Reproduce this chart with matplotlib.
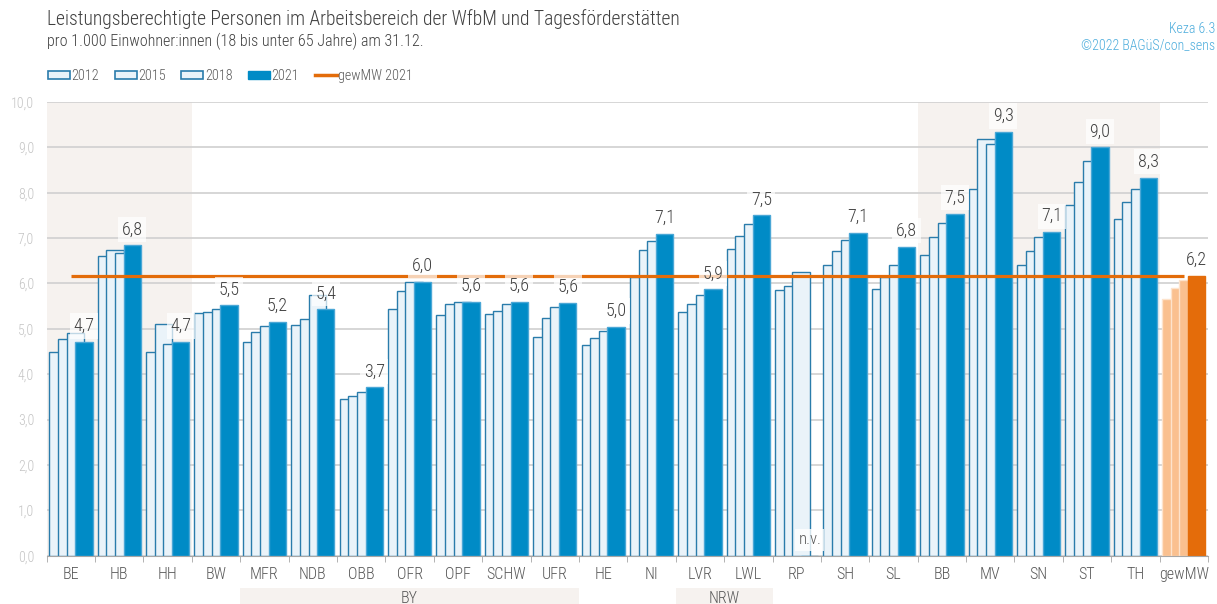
"""Keza 6.3: Leistungsberechtigte im Arbeitsbereich der WfbM und Tagesförderstätten."""
import matplotlib.pyplot as plt
import numpy as np
from matplotlib.patches import Patch, Rectangle
from matplotlib.lines import Line2D
import matplotlib.transforms as mtrans
from matplotlib import font_manager

# pick a narrow face if one is installed
avail = {f.name for f in font_manager.fontManager.ttflist}
fams = [f for f in ['Roboto Condensed', 'Liberation Sans Narrow', 'Roboto'] if f in avail]
plt.rcParams['font.family'] = fams + ['DejaVu Sans']
plt.rcParams['font.weight'] = 'light'

regions = ["BE", "HB", "HH", "BW", "MFR", "NDB", "OBB", "OFR", "OPF", "SCHW",
           "UFR", "HE", "NI", "LVR", "LWL", "RP", "SH", "SL", "BB", "MV",
           "SN", "ST", "TH", "gewMW"]

v2012 = [4.49, 6.60, 4.49, 5.34, 4.72, 5.09, 3.46, 5.43, 5.30, 5.32, 4.82, 4.64,
         6.14, 5.37, 6.76, 5.86, 6.40, 5.88, 6.63, 8.08, 6.40, 7.73, 7.42, 5.66]
v2015 = [4.77, 6.74, 5.10, 5.37, 4.93, 5.21, 3.52, 5.84, 5.55, 5.40, 5.24, 4.79,
         6.74, 5.55, 7.05, 5.95, 6.72, 6.14, 7.02, 9.18, 6.72, 8.24, 7.80, 5.91]
v2018 = [4.90, 6.67, 4.66, 5.43, 5.06, 5.75, 3.60, 6.03, 5.60, 5.55, 5.48, 4.96,
         6.94, 5.74, 7.32, 6.26, 6.96, 6.41, 7.34, 9.08, 7.03, 8.69, 8.08, 6.07]
v2021 = [4.71, 6.84, 4.71, 5.52, 5.16, 5.43, 3.71, 6.04, 5.59, 5.60, 5.57, 5.04,
         7.09, 5.87, 7.50, np.nan, 7.11, 6.81, 7.54, 9.34, 7.13, 9.00, 8.33, 6.17]
years = ["2012", "2015", "2018", "2021"]

# shaded blocks (city states / east) and bottom group brackets
shade_blocks = [("BE", "HH"), ("BB", "TH")]
brackets = [("BY", "MFR", "UFR"), ("NRW", "LVR", "LWL")]

LIGHT = "#eaf3f9"
LIGHT_EDGE = "#2a7cab"
DARK = "#008bc6"
DARK_EDGE = "#4aa7d6"
OR_LIGHT = "#fac08f"
OR_DARK = "#e46c0a"
LINE = "#e36c0a"
SHADE = "#f6f2ef"
TXT = "#595959"

fig = plt.figure(figsize=(12.17, 6.04), dpi=100)
ax = fig.add_axes([46.7/1217, 48.3/604, (1208-46.7)/1217, (555.7-102)/604])

n = len(regions)
x = np.arange(n)
w = 0.358
series = [v2012, v2015, v2018, v2021]

for k, vals in enumerate(series):
    left = x - 1.25*w + k*w/2
    vals = np.array(vals, dtype=float)
    if k < 3:
        fc = [LIGHT]*(n-1) + [OR_LIGHT]
        ec = [LIGHT_EDGE]*(n-1) + ["#fde3cc"]
    else:
        fc = [DARK]*(n-1) + [OR_DARK]
        ec = [DARK_EDGE]*(n-1) + [OR_DARK]
    ax.bar(left, np.nan_to_num(vals), width=w, align='edge', color=fc,
           edgecolor=ec, linewidth=1.0, zorder=3+k)

# weighted mean line
mean21 = v2021[-1]
ax.plot([0, n-1], [mean21, mean21], color=LINE, lw=2.3, zorder=8,
        solid_capstyle='butt')

# value labels on 2021 bars
for i, val in enumerate(v2021):
    xc = i - 1.25*w + 1.5*w + w/2
    if np.isnan(val):
        ax.text(xc, 0.35, "n.v.", ha='center', va='center', fontsize=12,
                color=TXT, zorder=10,
                bbox=dict(boxstyle='square,pad=0.2', fc='white', ec='none', alpha=0.8))
        continue
    ax.annotate(f"{val:.1f}".replace(".", ","), (xc, val), xytext=(0, 5),
                textcoords='offset points', ha='center', va='bottom',
                fontsize=13, color="#404040", zorder=10,
                bbox=dict(boxstyle='square,pad=0.2', fc='white', ec='none', alpha=0.7))

# background shading
for a, b in shade_blocks:
    i0, i1 = regions.index(a), regions.index(b)
    ax.axvspan(i0-0.5, i1+0.5, ymin=0, ymax=1, color=SHADE, zorder=0, lw=0)

trans = mtrans.blended_transform_factory(ax.transData, ax.transAxes)
for name, a, b in brackets:
    i0, i1 = regions.index(a), regions.index(b)
    ax.add_patch(Rectangle((i0-0.5, -0.11), i1-i0+1, 0.039, transform=trans,
                           facecolor=SHADE, edgecolor='none', clip_on=False))
    ax.text((i0+i1)/2, -0.095, name, transform=trans, ha='center', va='center',
            fontsize=11.5, color=TXT)

ax.set_xlim(-0.5, n-0.5)
ax.set_ylim(0, 10)
ax.set_yticks(np.arange(0, 11, 1))
ax.set_yticklabels([f"{t:.1f}".replace(".", ",") for t in range(11)],
                   fontsize=10, color="#c4c4c4")
ax.set_xticks(x)
ax.set_xticklabels(regions, fontsize=11.5, color=TXT)
ax.set_xticks(np.arange(-0.5, n, 1), minor=True)
ax.tick_params(axis='x', which='major', length=0, pad=8)
ax.tick_params(axis='x', which='minor', length=4, color="#a6a6a6")
ax.tick_params(axis='y', length=0, pad=9)
ax.yaxis.grid(True, color="#d0d0d0", lw=1.2, zorder=1)
ax.set_axisbelow(True)
for s in ['top', 'left', 'right']:
    ax.spines[s].set_visible(False)
ax.spines['bottom'].set_color("#a6a6a6")
ax.spines['bottom'].set_zorder(9)

# titles
fig.text(47/1217, 1-19/604, "Leistungsberechtigte Personen im Arbeitsbereich der WfbM und Tagesförderstätten",
         fontsize=14.1, color="#404040", va='center')
fig.text(47/1217, 1-41/604, "pro 1.000 Einwohner:innen (18 bis unter 65 Jahre) am 31.12.",
         fontsize=11.6, color="#404040", va='center')
fig.text(1215/1217, 1-29/604, "Keza 6.3", fontsize=10, color="#4bacdc",
         ha='right', va='center')
fig.text(1215/1217, 1-45/604, "©2022 BAGüS/con_sens", fontsize=10, color="#4bacdc",
         ha='right', va='center')

handles = [Patch(facecolor=LIGHT, edgecolor=LIGHT_EDGE, lw=1.2, label=y) for y in years[:3]]
handles.append(Patch(facecolor=DARK, edgecolor=DARK, label=years[3]))
handles.append(Line2D([], [], color=LINE, lw=2.5, label="gewMW 2021"))
fig.legend(handles=handles, loc='center left', bbox_to_anchor=(44/1217, 1-76/604),
           ncol=5, frameon=False, fontsize=10.2, handlelength=1.55, handleheight=0.55,
           handletextpad=0.1, columnspacing=1.1, labelcolor=TXT,
           borderaxespad=0, borderpad=0.3)

plt.savefig("out.png", dpi=100, facecolor='white')
plt.close()
